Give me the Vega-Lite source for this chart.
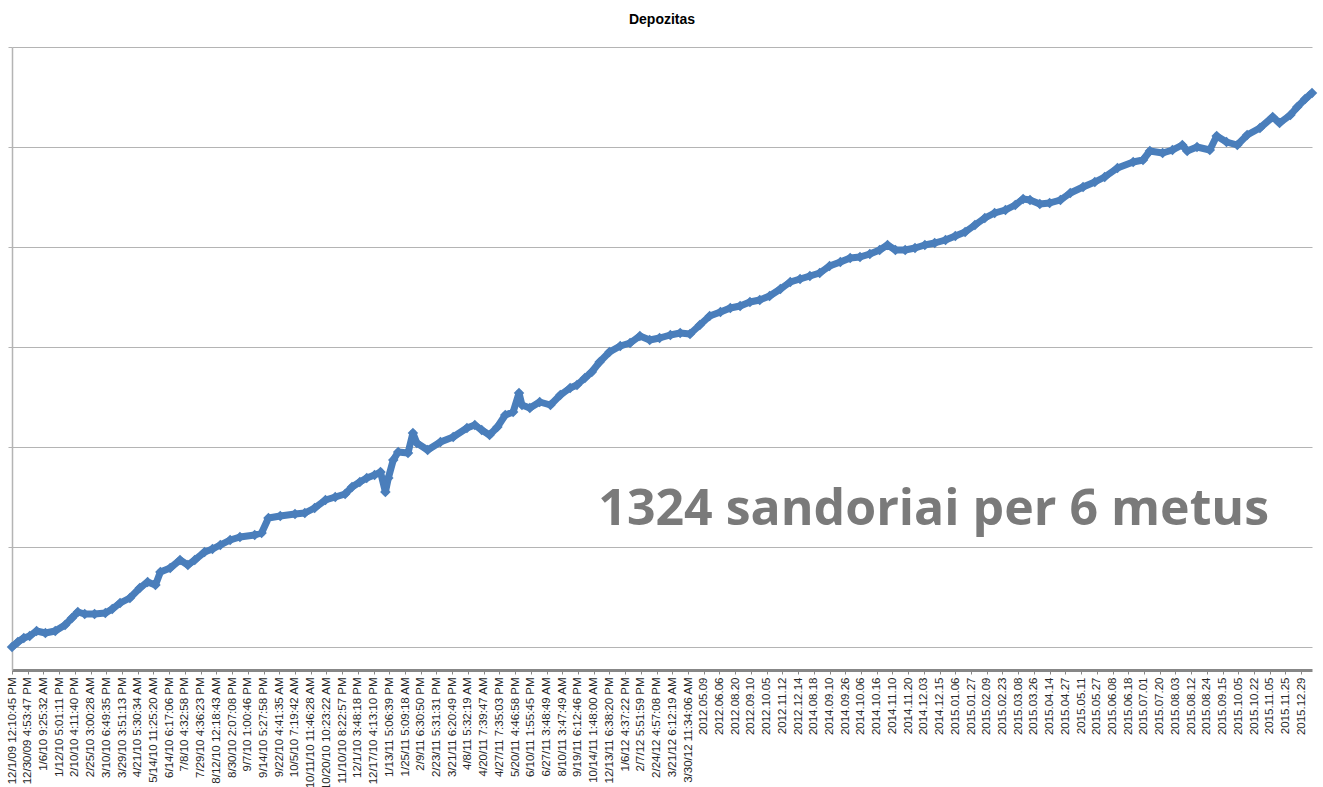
{
  "$schema": "https://vega.github.io/schema/vega-lite/v6.json",
  "width": 1300,
  "height": 623,
  "autosize": {"type": "none"},
  "padding": {"left": 12, "top": 47, "right": 11, "bottom": 117},
  "background": "white",
  "title": {"text": "Depozitas", "fontSize": 14, "font": "Liberation Sans", "fontWeight": "bold", "color": "#000000", "anchor": "middle", "offset": 20},
  "config": {"view": {"stroke": null}},
  "data": {"values": [
    {"i":0,"v":0},{"i":6,"v":50},{"i":12,"v":90},{"i":18,"v":110},{"i":25,"v":160},{"i":34,"v":140},{"i":44,"v":160},{"i":54,"v":220},{"i":61,"v":290},{"i":67,"v":350},{"i":74,"v":330},{"i":84,"v":330},{"i":95,"v":340},{"i":102,"v":380},{"i":110,"v":440},{"i":120,"v":490},{"i":130,"v":590},{"i":138,"v":650},{"i":146,"v":620},{"i":151,"v":750},{"i":161,"v":790},{"i":171,"v":870},{"i":179,"v":820},{"i":186,"v":870},{"i":196,"v":950},{"i":204,"v":980},{"i":212,"v":1020},{"i":222,"v":1070},{"i":232,"v":1100},{"i":247,"v":1120},{"i":254,"v":1140},{"i":261,"v":1290},{"i":273,"v":1310},{"i":288,"v":1330},{"i":298,"v":1340},{"i":308,"v":1390},{"i":319,"v":1470},{"i":329,"v":1500},{"i":339,"v":1530},{"i":346,"v":1600},{"i":354,"v":1650},{"i":361,"v":1690},{"i":369,"v":1720},{"i":375,"v":1750},{"i":380,"v":1550},{"i":383,"v":1690},{"i":388,"v":1870},{"i":393,"v":1950},{"i":403,"v":1940},{"i":408,"v":2140},{"i":412,"v":2040},{"i":423,"v":1970},{"i":436,"v":2050},{"i":449,"v":2100},{"i":463,"v":2190},{"i":471,"v":2220},{"i":478,"v":2170},{"i":486,"v":2120},{"i":494,"v":2200},{"i":502,"v":2320},{"i":510,"v":2350},{"i":516,"v":2540},{"i":519,"v":2420},{"i":527,"v":2390},{"i":537,"v":2450},{"i":548,"v":2420},{"i":558,"v":2520},{"i":568,"v":2590},{"i":575,"v":2620},{"i":583,"v":2690},{"i":590,"v":2750},{"i":598,"v":2850},{"i":608,"v":2950},{"i":619,"v":3010},{"i":629,"v":3040},{"i":639,"v":3110},{"i":649,"v":3070},{"i":659,"v":3090},{"i":670,"v":3120},{"i":680,"v":3140},{"i":690,"v":3130},{"i":700,"v":3220},{"i":710,"v":3310},{"i":721,"v":3350},{"i":731,"v":3390},{"i":741,"v":3410},{"i":751,"v":3450},{"i":761,"v":3470},{"i":771,"v":3510},{"i":782,"v":3580},{"i":792,"v":3650},{"i":802,"v":3680},{"i":812,"v":3710},{"i":822,"v":3740},{"i":832,"v":3810},{"i":843,"v":3850},{"i":853,"v":3890},{"i":863,"v":3900},{"i":873,"v":3930},{"i":883,"v":3970},{"i":891,"v":4020},{"i":899,"v":3970},{"i":909,"v":3970},{"i":919,"v":3990},{"i":929,"v":4020},{"i":939,"v":4040},{"i":950,"v":4070},{"i":960,"v":4110},{"i":970,"v":4150},{"i":980,"v":4220},{"i":990,"v":4290},{"i":1000,"v":4340},{"i":1011,"v":4370},{"i":1021,"v":4420},{"i":1029,"v":4480},{"i":1036,"v":4470},{"i":1046,"v":4430},{"i":1056,"v":4440},{"i":1067,"v":4470},{"i":1077,"v":4540},{"i":1090,"v":4600},{"i":1102,"v":4650},{"i":1112,"v":4700},{"i":1125,"v":4790},{"i":1141,"v":4850},{"i":1151,"v":4870},{"i":1158,"v":4960},{"i":1171,"v":4940},{"i":1181,"v":4970},{"i":1191,"v":5020},{"i":1196,"v":4960},{"i":1206,"v":5000},{"i":1219,"v":4970},{"i":1226,"v":5110},{"i":1236,"v":5050},{"i":1247,"v":5020},{"i":1257,"v":5120},{"i":1270,"v":5190},{"i":1283,"v":5300},{"i":1290,"v":5240},{"i":1301,"v":5320},{"i":1308,"v":5400},{"i":1316,"v":5480},{"i":1323,"v":5540}
  ]},
  "encoding": {
    "x": {"field": "i", "type": "quantitative",
      "scale": {"domain": [0, 1323], "nice": false, "zero": false},
      "axis": {
        "title": null,
        "values": [0,16,32,48,64,80,96,112,128,144,160,176,192,208,224,240,256,272,288,304,320,336,352,368,384,400,416,432,448,464,480,496,512,528,544,560,576,592,608,624,640,656,672,688,704,720,736,752,768,784,800,816,832,848,864,880,896,912,928,944,960,976,992,1008,1024,1040,1056,1072,1088,1104,1120,1136,1152,1168,1184,1200,1216,1232,1248,1264,1280,1296,1312],
        "labelExpr": "['12/1/09 12:10:45 PM','12/30/09 4:53:47 PM','1/6/10 9:25:32 AM','1/12/10 5:01:11 PM','2/10/10 4:11:40 PM','2/25/10 3:00:28 AM','3/10/10 6:49:35 PM','3/29/10 3:51:13 PM','4/21/10 5:30:34 AM','5/14/10 11:25:20 AM','6/14/10 6:17:06 PM','7/8/10 4:32:58 PM','7/29/10 4:36:23 PM','8/12/10 12:18:43 AM','8/30/10 2:07:08 PM','9/7/10 1:00:46 PM','9/14/10 5:27:58 PM','9/22/10 4:41:35 AM','10/5/10 7:19:42 AM','10/11/10 11:46:28 AM','10/20/10 10:23:22 AM','11/10/10 8:22:57 PM','12/1/10 3:48:18 PM','12/17/10 4:13:10 PM','1/13/11 5:06:39 PM','1/25/11 5:09:18 AM','2/9/11 6:30:50 PM','2/23/11 5:31:31 PM','3/21/11 6:20:49 PM','4/8/11 5:32:19 AM','4/20/11 7:39:47 AM','4/27/11 7:35:03 PM','5/20/11 4:46:58 PM','6/10/11 1:55:45 PM','6/27/11 3:48:49 AM','8/10/11 3:47:49 AM','9/19/11 6:12:46 PM','10/14/11 1:48:00 AM','12/13/11 6:38:20 PM','1/6/12 4:37:22 PM','2/7/12 5:51:59 PM','2/24/12 4:57:08 PM','3/21/12 6:12:19 AM','3/30/12 11:34:06 AM','2012.05.09','2012.06.06','2012.08.20','2012.09.10','2012.10.05','2012.11.12','2012.12.14','2014.08.18','2014.09.10','2014.09.26','2014.10.06','2014.10.16','2014.11.10','2014.11.20','2014.12.03','2014.12.15','2015.01.06','2015.01.27','2015.02.09','2015.02.23','2015.03.08','2015.03.26','2015.04.14','2015.04.27','2015.05.11','2015.05.27','2015.06.08','2015.06.18','2015.07.01','2015.07.20','2015.08.03','2015.08.12','2015.08.24','2015.09.15','2015.10.05','2015.10.22','2015.11.05','2015.11.25','2015.12.29'][round(datum.value/16)]",
        "labelAngle": 270,
        "labelAlign": "right",
        "labelBaseline": "middle",
        "labelFont": "Liberation Sans",
        "labelFontSize": 11.5,
        "labelColor": "#262626",
        "labelOverlap": false,
        "labelBound": false,
        "labelFlush": false,
        "labelPadding": 3,
        "grid": false,
        "domainColor": "#878787",
        "domainWidth": 3,
        "tickColor": "#878787",
        "tickSize": 4
      }
    },
    "y": {"field": "v", "type": "quantitative",
      "scale": {"domain": [-230, 6000], "nice": false, "zero": false},
      "axis": {
        "title": null,
        "values": [0,1000,2000,3000,4000,5000,6000],
        "labels": false,
        "grid": true,
        "gridColor": "#b4b4b4",
        "gridWidth": 1,
        "domainColor": "#b4b4b4",
        "domainWidth": 1.5,
        "tickColor": "#b4b4b4",
        "tickSize": 4
      }
    }
  },
  "layer": [
    {"mark": {"type": "line", "color": "#4a7ebb", "strokeWidth": 7, "strokeJoin": "round"}},
    {"mark": {"type": "point", "shape": "diamond", "filled": true, "size": 110, "color": "#4a7ebb", "opacity": 1}},
    {
      "data": {"values": [{"t": "1324 sandoriai per 6 metus", "x": 938, "y": 1220}]},
      "mark": {"type": "text", "font": "Open Sans", "fontWeight": "bold", "fontSize": 50, "color": "#7a7a7a", "align": "center", "baseline": "alphabetic"},
      "encoding": {
        "x": {"field": "x", "type": "quantitative"},
        "y": {"field": "y", "type": "quantitative"},
        "text": {"field": "t", "type": "nominal"}
      }
    }
  ]
}
